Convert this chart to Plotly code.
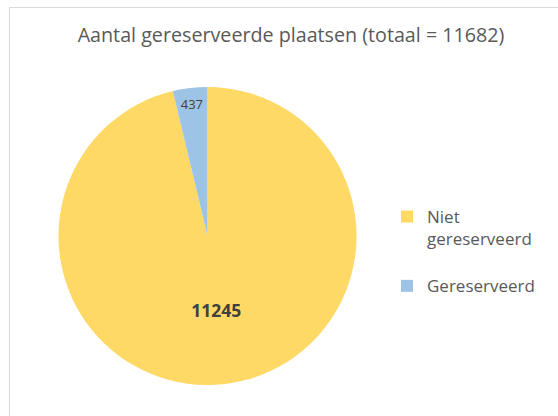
import plotly.graph_objects as go

# Reserved vs. not reserved seats
categories = ["Niet<br>gereserveerd<br> ", "Gereserveerd"]
values = [11245, 437]
colors = ["#FFD966", "#9DC3E6"]
total = sum(values)

W, H = 558, 416

fig = go.Figure(
    go.Pie(
        labels=categories,
        values=values,
        sort=False,
        direction="clockwise",
        rotation=0,
        marker=dict(colors=colors, line=dict(width=0)),
        texttemplate=["<b>%{value:.0f}</b>", "%{value:.0f}"],
        textposition="inside",
        insidetextorientation="horizontal",
        textfont=dict(family="Open Sans", size=[17.5, 13], color="#404040"),
        domain=dict(x=[58 / W, 357 / W], y=[31 / H, 329 / H]),
        hovertemplate="%{value}<extra></extra>",
    )
)

fig.update_layout(
    width=W,
    height=H,
    margin=dict(l=0, r=0, t=0, b=0),
    paper_bgcolor="white",
    title=dict(
        text=f"Aantal gereserveerde plaatsen (totaal = {total})",
        x=291 / W,
        xanchor="center",
        y=1 - 35 / H,
        yanchor="middle",
        font=dict(family="Open Sans", size=19.7, color="#595959"),
    ),
    legend=dict(
        x=387 / W,
        y=1 - 199 / H,
        xanchor="left",
        yanchor="top",
        valign="top",
        font=dict(family="Open Sans", size=17, color="#595959"),
    ),
    shapes=[
        dict(
            type="rect",
            xref="paper",
            yref="paper",
            x0=9.5 / W,
            x1=1.05,
            y0=-0.05,
            y1=1 - 7.5 / H,
            line=dict(color="#D9D9D9", width=1),
        )
    ],
)

fig.write_html("out.html")
